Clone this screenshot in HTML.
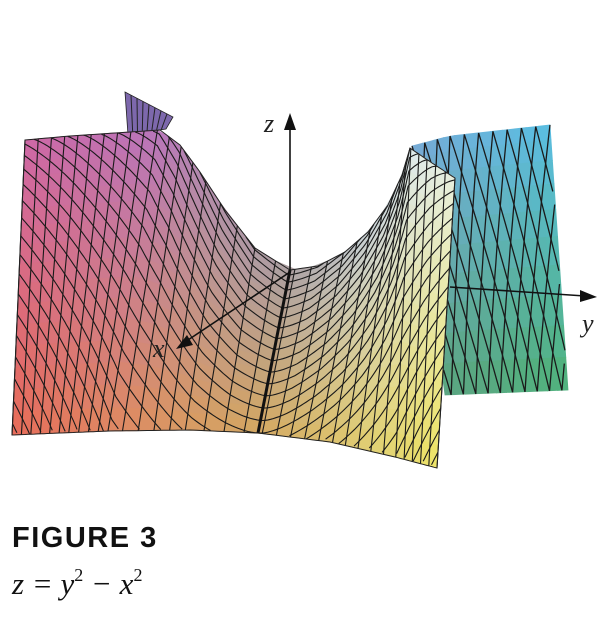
<!DOCTYPE html>
<html><head><meta charset="utf-8"><style>
html,body{margin:0;padding:0;background:#fff;}
#wrap{position:relative;width:611px;height:636px;overflow:hidden;}
svg{position:absolute;left:0;top:0;}
.cap{position:absolute;left:12px;top:522px;font:bold 29px "Liberation Sans",sans-serif;letter-spacing:1.5px;color:#111;}
.eq{position:absolute;left:12px;top:565px;font:italic 31px "Liberation Serif",serif;color:#111;}
.eq sup{font-size:18px;font-style:normal;vertical-align:13px;}
</style></head><body>
<div id="wrap">
<svg id="s" width="611" height="636"></svg>
<div class="cap">FIGURE 3</div>
<div class="eq">z = y<sup>2</sup> − x<sup>2</sup></div>
</div>
<script>
// front sheet boundary: [u, x, y]
const frontTop=[[0,25,140],[0.1,70,136],[0.2,115,133],[0.3,160,130],[0.35,180,145],[0.4,200,172],[0.45,225,210],[0.5,255,248],[0.55,290,270],[0.6,318,266],[0.65,345,252],[0.7,368,232],[0.75,388,205],[0.8,402,175],[0.85,410,148],[0.93,432,163],[1,455,178]];
const frontBot=[[0,12,435],[0.15,60,433],[0.3,110,431],[0.45,190,430],[0.55,258,433],[0.7,330,442],[0.85,395,457],[1,437,468]];
const frontTopCol=[[0,[206,104,166]],[0.3,[184,118,188]],[0.45,[176,146,168]],[0.55,[172,160,162]],[0.7,[200,210,215]],[0.85,[222,234,238]],[1,[232,238,220]]];
const frontBotCol=[[0,[232,108,88]],[0.3,[224,136,96]],[0.55,[212,168,98]],[0.8,[226,208,112]],[1,[238,228,100]]];
const backTop=[[0,412,146],[0.3,450,136],[1,550,125]];
const backBot=[[0,445,395],[1,568,390]];
const backTopCol=[[0,[120,170,215]],[1,[90,190,228]]];
const backBotCol=[[0,[90,165,125]],[1,[80,178,120]]];
const backLeft=[[125,92],[173,117],[166,129],[128,135]];
const NU=34, NV=16;
const svg=document.getElementById('s');
const NS='http://www.w3.org/2000/svg';
function lerpArr(arr,u){for(let i=0;i<arr.length-1;i++){const a=arr[i],b=arr[i+1];if(u<=b[0]){const t=(u-a[0])/(b[0]-a[0]);return [a[1]+(b[1]-a[1])*t,a[2]+(b[2]-a[2])*t];}}const l=arr[arr.length-1];return [l[1],l[2]];}
function lerpCol(arr,u){for(let i=0;i<arr.length-1;i++){const a=arr[i],b=arr[i+1];if(u<=b[0]){const t=(u-a[0])/(b[0]-a[0]);return a[1].map((c,k)=>c+(b[1][k]-c)*t);}}return arr[arr.length-1][1];}
function P(top,bot,u,v){const a=lerpArr(top,u),b=lerpArr(bot,u);return [a[0]+(b[0]-a[0])*v,a[1]+(b[1]-a[1])*v];}
function C(tc,bc,u,v){const a=lerpCol(tc,u),b=lerpCol(bc,u);return 'rgb('+a.map((c,k)=>Math.round(c+(b[k]-c)*v)).join(',')+')';}
function add(tag,attrs,name){const e=document.createElementNS(NS,tag);for(const k in attrs)e.setAttribute(k,attrs[k]);


svg.appendChild(e);return e;}
function vmap(v){return Math.pow(v,1.25);}
function patch(top,bot,tc,bc,nu,nv,name){
 for(let i=0;i<nu;i++)for(let j=0;j<nv;j++){
  const u0=i/nu,u1=(i+1)/nu,v0=vmap(j/nv),v1=vmap((j+1)/nv);
  const pts=[P(top,bot,u0,v0),P(top,bot,u1,v0),P(top,bot,u1,v1),P(top,bot,u0,v1)];
  const col=C(tc,bc,(u0+u1)/2,(v0+v1)/2);
  add('polygon',{points:pts.map(p=>p.join(',')).join(' '),fill:col,stroke:col,'stroke-width':0.8},name+'-cell');
 }
}
function pathOf(pts){return 'M'+pts.map(p=>p[0].toFixed(1)+','+p[1].toFixed(1)).join('L');}
// back right sheet
patch(backTop,backBot,backTopCol,backBotCol,12,10,'back-right-sheet');
for(let k=-6;k<=14;k++){
 const u=k/10;
 [[u,u+0.35],[u,u-0.35]].forEach(([a,b])=>{
  const pts=[];for(let s=0;s<=20;s++){const t=s/20,uu=a+(b-a)*t;if(uu<0||uu>1)continue;pts.push(P(backTop,backBot,uu,t));}
  if(pts.length>1)add('path',{d:pathOf(pts),fill:'none',stroke:'#1a1a1a','stroke-width':1.3},'back-right-grid-line');
 });
}
// back-left piece
add('polygon',{points:backLeft.map(p=>p.join(',')).join(' '),fill:'#7d68ac',stroke:'#222','stroke-width':0.8},'back-left-sheet');
for(let k=1;k<8;k++){const t=k/8;const a=[backLeft[0][0]+(backLeft[1][0]-backLeft[0][0])*t,backLeft[0][1]+(backLeft[1][1]-backLeft[0][1])*t];const b=[backLeft[3][0]+(backLeft[2][0]-backLeft[3][0])*t,backLeft[3][1]+(backLeft[2][1]-backLeft[3][1])*t];add('line',{x1:a[0],y1:a[1],x2:b[0],y2:b[1],stroke:'#222','stroke-width':1},'back-left-grid-line');}
// front sheet
patch(frontTop,frontBot,frontTopCol,frontBotCol,NU,NV,'front-sheet');
for(let i=0;i<=NU;i++){const u=i/NU;const pts=[];for(let s=0;s<=20;s++)pts.push(P(frontTop,frontBot,u,s/20));
 add('path',{d:pathOf(pts),fill:'none',stroke:'#1a1a1a','stroke-width':1.1},'front-grid-line');}
// U-shaped curves whose arms rise toward the top edges
for(let j=0;j<=36;j++){
 const b=j/16;
 let seg=[];
 const flush=()=>{if(seg.length>1)add('path',{d:pathOf(seg),fill:'none',stroke:'#1a1a1a','stroke-width':1.1},'front-grid-curve');seg=[];};
 for(let s=0;s<=200;s++){
  const u=s/200,d=u-0.55;
  const sl=d<0?1.7:2.0;
  const v=b - sl*d*d/(Math.abs(d)+0.06);
  if(v<0||v>1){flush();continue;}
  seg.push(P(frontTop,frontBot,u,vmap(v)));
 }
 flush();
}
{const pts=[];for(let s=0;s<=20;s++)pts.push(P(frontTop,frontBot,0.55,s/20));add('path',{d:pathOf(pts),fill:'none',stroke:'#111','stroke-width':3},'center-line');}
// outline
{const pts=[];for(let s=0;s<=100;s++)pts.push(P(frontTop,frontBot,s/100,0));for(let s=100;s>=0;s--)pts.push(P(frontTop,frontBot,s/100,1));
 add('path',{d:pathOf(pts)+'Z',fill:'none',stroke:'#222','stroke-width':1},'front-outline');}
// axes
add('line',{x1:290,y1:272,x2:290,y2:122,stroke:'#111','stroke-width':1.6},'z-axis');
add('polygon',{points:'290,113 284,130 296,130',fill:'#111'},'z-arrow');
add('line',{x1:290,y1:272,x2:185,y2:342,stroke:'#111','stroke-width':1.6},'x-axis');
add('polygon',{points:'176,349 187,335 193,345',fill:'#111'},'x-arrow');
add('line',{x1:450,y1:287,x2:585,y2:296,stroke:'#111','stroke-width':1.6},'y-axis');
add('polygon',{points:'597,297 580,290 580,302',fill:'#111'},'y-arrow');
const lbl=(t,x,y,n)=>{const e=add('text',{x:x,y:y,'font-family':'Liberation Serif, serif','font-style':'italic','font-size':26,fill:'#222'},n);e.textContent=t;};
lbl('z',264,132,'z-axis-label');lbl('x',153,357,'x-axis-label');lbl('y',582,332,'y-axis-label');
</script>
</body></html>
